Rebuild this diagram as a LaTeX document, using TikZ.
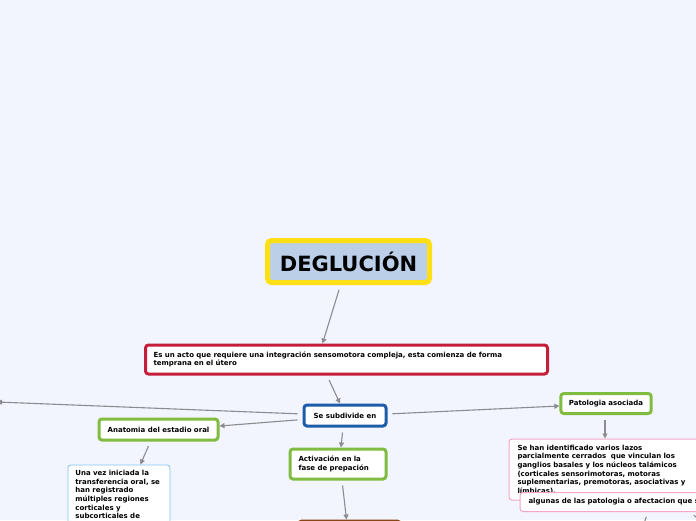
\documentclass[tikz,border=0pt]{standalone}
\usepackage{fontspec}
\setmainfont{DejaVu Sans}
\usetikzlibrary{positioning, calc, arrows.meta}

\definecolor{paper}{HTML}{F2F5FD}
\definecolor{sunyellow}{HTML}{FFE014}
\definecolor{titlefill}{HTML}{BCCFE8}
\definecolor{crimson}{HTML}{C41E3A}
\definecolor{navy}{HTML}{1D5CA8}
\definecolor{leaf}{HTML}{80BC40}
\definecolor{rose}{HTML}{F4A6C8}
\definecolor{sky}{HTML}{7CC6EE}
\definecolor{rust}{HTML}{8A4516}
\definecolor{linkgrey}{HTML}{8C8C90}

\begin{document}
\begin{tikzpicture}[x=1pt, y=-1pt,
  % Topic boxes
  central/.style={rectangle, rounded corners=4pt, draw=sunyellow, fill=titlefill, line width=5pt,
    minimum width=162pt, minimum height=42pt, font=\fontsize{21}{24}\selectfont\bfseries},
  box/.style={rectangle, rounded corners=3pt, fill=white, inner xsep=8pt, inner ysep=0pt,
    font=\fontsize{7}{8.6}\selectfont\bfseries},
  redBox/.style={box, draw=crimson, line width=3pt},
  blueBox/.style={box, draw=navy, line width=3pt},
  greenBox/.style={box, draw=leaf, line width=3pt},
  pinkBox/.style={box, draw=rose, line width=1pt},
  skyBox/.style={box, draw=sky, line width=0.8pt},
  % Connectors
  link/.style={draw=linkgrey, line width=1.1pt, -{Triangle[length=5pt,width=5pt]}, shorten <=5pt}
  ]

  \useasboundingbox (0,0) rectangle (696,520);
  \fill[paper] (0,0) rectangle (696,520);
  \clip (0,0) rectangle (696,520);

  % --- Main topics ---
  \node[central] (deglu) at (348.5,261.5) {DEGLUCIÓN};

  \node[redBox, text width=386pt, minimum height=29pt, align=left] (acto) at (346.5,359.5)
  {Es un acto que requiere una integración sensomotora compleja, esta comienza de forma\\
   temprana en el útero};

  \node[blueBox, minimum width=82pt, minimum height=21pt] (subdiv) at (345,415.5) {Se subdivide en};

  \node[greenBox, minimum width=119pt, minimum height=21pt] (anatomia) at (158.5,429.5) {Anatomia del estadio oral};
  \node[greenBox, inner xsep=8.5pt, text width=79pt, minimum height=30pt, align=left] (activ) at (338,464)
  {Activación en la\\ fase de prepación};
  \node[greenBox, minimum width=90pt, minimum height=20pt] (patolog) at (606,403.5) {Patologia asociada};

  % --- Detail boxes ---
  \node[skyBox, anchor=north west, inner xsep=7.5pt, inner ysep=5.5pt, text width=87pt, align=left] (vezinic)
  at (67.5,464.5)
  {Una vez iniciada la\\ transferencia oral, se\\ han registrado\\ múltiples regiones\\ corticales y\\ subcorticales de};

  \node[pinkBox, anchor=north west, inner xsep=8.5pt, text width=183pt, minimum height=61pt, align=left] (lazos)
  at (508.5,438.5)
  {Se han identificado varios lazos\\ parcialmente cerrados\ \ que vinculan los\\
   ganglios basales y los núcleos talámicos\\ (corticales sensorimotoras, motoras\\
   suplementarias, premotoras, asociativas y\\ límbicas).};
  \node[pinkBox, anchor=west, inner xsep=8.5pt, text width=233pt, minimum height=19pt, align=left] (afect)
  at (519.5,502) {algunas de las patologia o afectacion que s};

  % --- Boxes cut by the frame ---
  \node[redBox, anchor=north east, minimum width=80pt, minimum height=40pt] (redcut) at (-0.5,512) {};
  \node[box, draw=rust, line width=3pt, anchor=north, minimum width=101pt, minimum height=30pt] (brown)
  at (349.5,519.5) {};
  \coordinate (offleft) at (-3,402);
  \coordinate (offdown) at (641,532);
  \coordinate (offright) at (708,527);

  % --- Wiring ---
  \draw[link] ($(deglu.south)+(-8,0)$) -- ($(acto.north)+(-24,0)$);
  \draw[link] ($(acto.south)+(-19.5,0)$) -- ($(subdiv.north)+(-5,0)$);
  \draw[link] ($(subdiv.west)+(0,-1.5)$) -- (offleft);
  \draw[link] ($(subdiv.west)+(0,4)$) -- ($(anatomia.east)+(0,-3.5)$);
  \draw[link] ($(subdiv.south)+(-2,0)$) -- ($(activ.north)+(3,0)$);
  \draw[link] ($(subdiv.east)+(0,-1.5)$) -- ($(patolog.west)+(0,2.5)$);
  \draw[link] ($(patolog.south)+(-1,0)$) -- ($(patolog.south |- lazos.north)+(-1,0)$);
  \draw[link] ($(anatomia.south)+(-8,0)$) -- ($(vezinic.north)+(21.5,0)$);
  \draw[link] ($(activ.south)+(4,0)$) -- ($(brown.north)+(-3,0)$);
  \draw[link] ($(afect.south west)+(128.5,0)$) -- (offdown);
  \draw[link] ($(afect.south west)+(170.5,0)$) -- (offright);

\end{tikzpicture}
\end{document}
